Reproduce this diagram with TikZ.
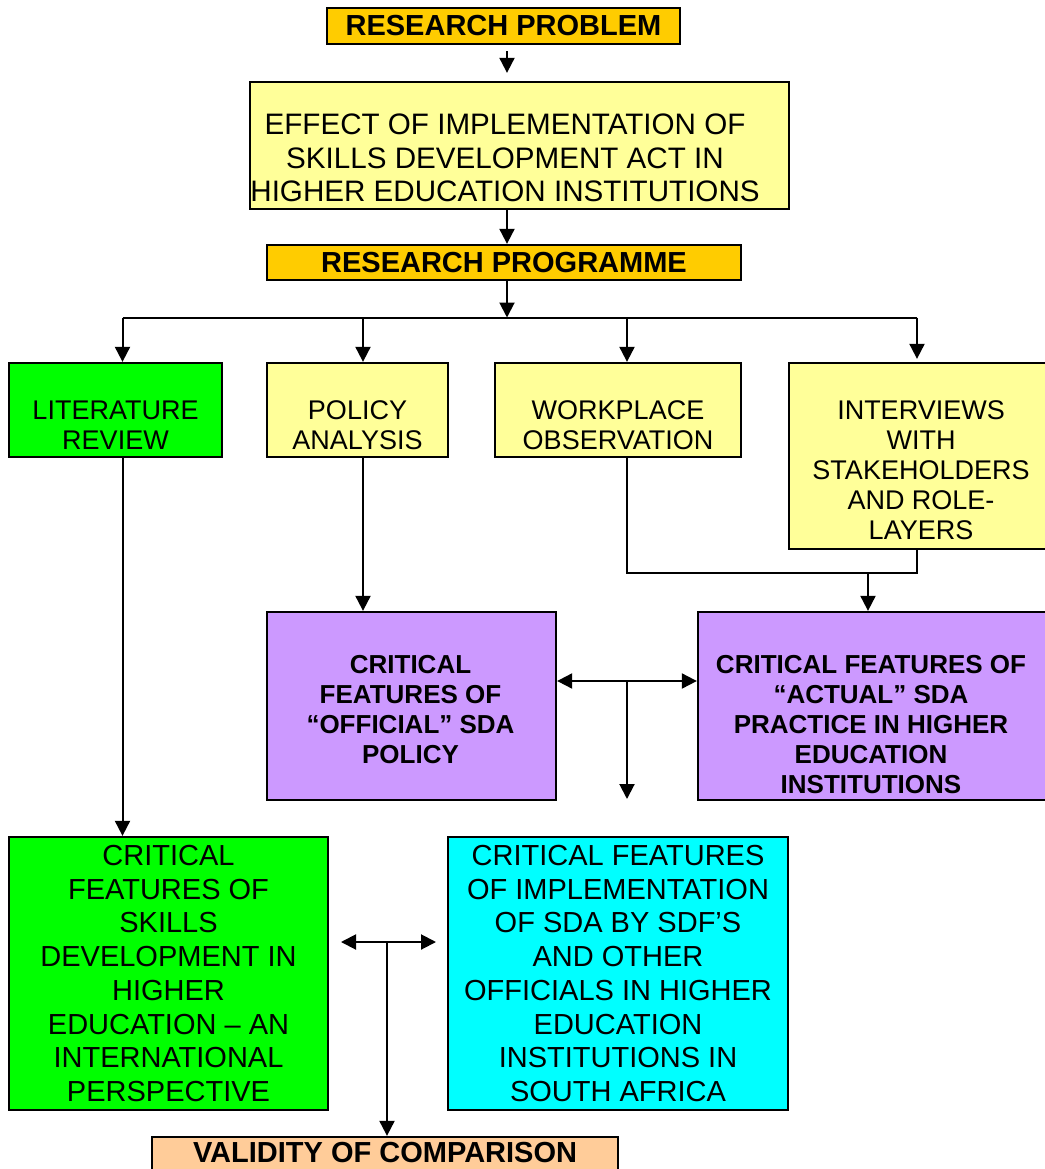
\documentclass[tikz,border=0pt]{standalone}
\usepackage{fontspec}
\setmainfont{Liberation Sans}
\usetikzlibrary{arrows.meta,calc}
\definecolor{gold}{HTML}{FFCC00}
\definecolor{lyellow}{HTML}{FFFF99}
\definecolor{bgreen}{HTML}{00FF00}
\definecolor{lpurple}{HTML}{CC99FF}
\definecolor{bcyan}{HTML}{00FFFF}
\definecolor{tan}{HTML}{FFCC99}
\begin{document}
\begin{tikzpicture}[x=1pt,y=-1pt,
  box/.style={draw=black, line width=2.3pt, inner sep=0pt},
  conn/.style={line width=2pt},
  arr/.style={conn, -{Triangle[length=15pt,width=15pt]}},
  darr/.style={conn, {Triangle[length=15pt,width=15pt]}-{Triangle[length=15pt,width=15pt]}},
  tsmall/.style={align=center, inner sep=0pt, font=\fontsize{27}{30}\selectfont},
  tsmallb/.style={align=center, inner sep=0pt, font=\fontsize{26}{30}\selectfont\bfseries},
  tbig/.style={align=center, inner sep=0pt, font=\fontsize{29}{33.7}\selectfont},
  tbigb/.style={align=center, inner sep=0pt, font=\fontsize{29}{33.7}\selectfont\bfseries},
]
\useasboundingbox (0,0) rectangle (1044,1169);

% boxes
\node[box, fill=gold,    minimum width=353pt, minimum height=36pt]  (rp)     at (503.5,26) {};
\node[box, fill=lyellow, minimum width=539pt, minimum height=127pt] (effect) at (519.5,145.5) {};
\node[box, fill=gold,    minimum width=474pt, minimum height=35pt]  (prog)   at (504,262.5) {};
\node[box, fill=bgreen,  minimum width=213pt, minimum height=94pt]  (lit)    at (115.5,410) {};
\node[box, fill=lyellow, minimum width=181pt, minimum height=94pt]  (pol)    at (357.5,410) {};
\node[box, fill=lyellow, minimum width=246pt, minimum height=94pt]  (work)   at (618,410) {};
\node[box, fill=lyellow, minimum width=267pt, minimum height=186pt] (intv)   at (922.5,456) {};
\node[box, fill=lpurple, minimum width=289pt, minimum height=188pt] (off)    at (411.5,706) {};
\node[box, fill=lpurple, minimum width=348pt, minimum height=188pt] (act)    at (872,706) {};
\node[box, fill=bgreen,  minimum width=319pt, minimum height=273pt] (green2) at (168.5,973.5) {};
\node[box, fill=bcyan,   minimum width=340pt, minimum height=273pt] (cyan)   at (618,973.5) {};
\node[box, fill=tan,     minimum width=466pt, minimum height=34pt]  (val)    at (385,1154) {};

% texts
\node[tbigb]  (rpt)  at (rp.center) {RESEARCH PROBLEM};
\node[tbig, font=\fontsize{29.6}{33.5}\selectfont] (efft) at ($(effect.center)+(-14.5,12.5)$)
  {EFFECT OF IMPLEMENTATION OF\\SKILLS DEVELOPMENT ACT IN\\HIGHER EDUCATION INSTITUTIONS};
\node[tbigb]  (progt) at (prog.center) {RESEARCH PROGRAMME};
\node[tsmall] (litt)  at ($(lit.center)+(0,15)$) {LITERATURE\\REVIEW};
\node[tsmall] (polt)  at ($(pol.center)+(0,15)$) {POLICY\\ANALYSIS};
\node[tsmall] (workt) at ($(work.center)+(0,15)$) {WORKPLACE\\OBSERVATION};
\node[tsmall] (intvt) at ($(intv.center)+(-1.5,14)$) {INTERVIEWS\\WITH\\STAKEHOLDERS\\AND ROLE-\\LAYERS};
\node[tsmallb] (offt) at ($(off.center)+(-1,4)$) {CRITICAL\\FEATURES OF\\“OFFICIAL” SDA\\POLICY};
\node[tsmallb] (actt) at ($(act.center)+(-1,19)$) {CRITICAL FEATURES OF\\“ACTUAL” SDA\\PRACTICE IN HIGHER\\EDUCATION\\INSTITUTIONS};
\node[tbig] (green2t) at (green2.center) {CRITICAL\\FEATURES OF\\SKILLS\\DEVELOPMENT IN\\HIGHER\\EDUCATION – AN\\INTERNATIONAL\\PERSPECTIVE};
\node[tbig] (cyant) at (cyan.center) {CRITICAL FEATURES\\OF IMPLEMENTATION\\OF SDA BY SDF’S\\AND OTHER\\OFFICIALS IN HIGHER\\EDUCATION\\INSTITUTIONS IN\\SOUTH AFRICA};
\node[tbigb] (valt) at ($(val.center)+(0,-1)$) {VALIDITY OF COMPARISON};

% connector coordinates
\coordinate (mx)   at (507,0);
\coordinate (busL) at (122.5,317.5);
\coordinate (busR) at (917,317.5);
\coordinate (pX)   at (363,317.5);
\coordinate (wX)   at (627,317.5);
\coordinate (j2)   at (917,573);
\coordinate (j3)   at (868,573);
\coordinate (m1)   at (627,681);
\coordinate (m1e)  at (627,799);
\coordinate (b1)   at (341,942);
\coordinate (b2)   at (436,942);
\coordinate (b3)   at (387,942);

% connectors
\draw[arr] ($(rp.south -| mx)+(0,6)$) -- ($(effect.north -| mx)+(0,-8)$);
\draw[arr] (effect.south -| mx) -- (prog.north -| mx);
\draw[arr] (prog.south -| mx) -- (mx |- busL);
\draw[conn] (busL) -- (busR);
\draw[arr] (busL) -- (lit.north -| busL);
\draw[arr] (pX) -- (pol.north -| pX);
\draw[arr] (wX) -- (work.north -| wX);
\draw[arr] (busR) -- ($(intv.north -| busR)+(0,-3)$);

\draw[arr] (lit.south -| busL) -- (green2.north -| busL);
\draw[arr] (pol.south -| pX) -- (off.north -| pX);
\draw[conn] (work.south -| wX) |- (j2) -- (intv.south -| j2);
\draw[arr] (j3) -- (act.north -| j3);

\draw[darr] (off.east |- m1) -- (act.west |- m1);
\draw[arr] (m1) -- (m1e);

\draw[darr] (b1) -- (b2);
\draw[arr] (b3) -- (val.north -| b3);
\end{tikzpicture}
\end{document}
